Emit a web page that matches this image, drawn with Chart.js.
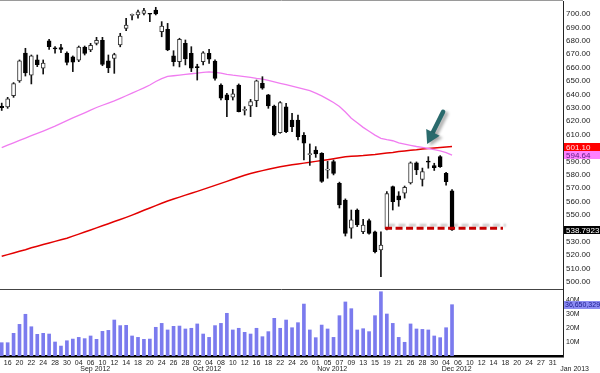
<!DOCTYPE html>
<html>
<head>
<meta charset="utf-8">
<script src="https://cdn.jsdelivr.net/npm/chart.js@4"></script>
<style>
html, body { margin: 0; padding: 0; background: #fff; }
#wrap { position: relative; width: 600px; height: 373px; overflow: hidden; }
canvas { position: absolute; left: 0; display: block; }
</style>
</head>
<body>
<div id="wrap">
  <canvas id="price" width="600" height="290" style="top:0"></canvas>
  <canvas id="vol" width="600" height="83" style="top:290px"></canvas>
</div>
<script>
// trading days, Aug 15 2012 -> Jan 2 2013 (only the first 77 have prices)
const days = ['15','16','17','20','21','22','23','24','27','28','29','30','31',
  '04','05','06','07','10','11','12','13','14','17','18','19','20','21','24','25','26','27','28',
  '01','02','03','04','05','08','09','10','11','12','15','16','17','18','19','22','23','24','25','26','31',
  '01','02','05','06','07','08','09','12','13','14','15','16','19','20','21','23','26','27','28','29','30',
  '03','04','05','06','07','10','11','12','13','14','17','18','19','20','21','24','26','27','28','31',
  '02'];
const monthStarts = [13, 32, 53, 74, 94];
const monthNames = ['Sep 2012', 'Oct 2012', 'Nov 2012', 'Dec 2012', 'Jan 2013'];

const opens = [631.0,630.6,639.0,650.0,670.8,654.4,665.7,659.5,679.9,674.2,
  675.0,670.8,668.0,665.5,675.3,673.1,678.1,680.4,665.0,666.9,
  677.0,689.3,699.0,699.3,700.5,700.2,703.0,686.8,688.6,668.7,
  664.4,678.1,670.7,660.5,664.4,670.7,664.9,647.0,639.6,638.0,
  647.0,628.0,631.3,635.3,648.3,639.6,631.3,611.4,630.8,620.9,
  620.9,609.5,595.0,598.5,596.0,583.5,589.8,573.6,561.2,540.1,
  553.7,537.5,545.8,537.5,523.9,539.5,571.1,564.2,566.2,574.0,
  589.0,576.6,590.2,586.8,593.5,581.1,568.1];
const highs = [633.5,637.8,648.8,665.7,674.4,669.4,669.4,665.7,681.0,675.6,
  677.4,671.8,668.7,676.1,676.1,678.1,682.6,682.6,669.4,670.7,
  685.6,696.8,700.0,703.0,704.2,700.5,705.0,694.3,693.0,672.6,
  681.9,680.6,675.6,662.5,671.9,673.6,665.7,647.8,640.8,643.8,
  647.8,630.8,636.3,650.7,653.2,640.0,632.0,634.6,633.4,625.9,
  624.6,611.5,603.0,601.0,596.5,590.0,591.0,574.5,562.0,553.7,
  554.5,546.8,547.0,538.0,537.5,567.4,571.6,567.4,571.6,589.6,
  589.6,585.0,593.5,588.6,594.3,581.8,568.9];
const lows = [628.0,629.6,637.8,649.0,653.7,647.8,660.7,655.2,673.6,670.7,
  671.1,662.0,657.0,664.4,669.4,671.9,676.9,661.4,656.2,655.7,
  675.5,687.5,695.5,696.8,699.3,694.3,699.3,683.0,672.6,661.2,
  660.5,662.0,657.0,650.7,662.0,663.2,650.7,635.8,623.4,635.8,
  626.9,624.6,623.4,630.8,643.8,629.6,609.0,611.0,611.4,612.2,
  606.0,591.0,587.0,593.0,574.3,577.4,579.9,555.2,534.3,532.6,
  541.3,536.0,535.6,521.6,504.0,538.8,553.7,556.5,562.6,573.1,
  580.1,571.6,584.9,583.2,585.5,572.3,538.5];
const closes = [630.0,636.6,648.1,665.1,656.1,668.8,662.1,663.4,675.6,674.0,
  673.5,663.9,664.0,675.3,670.5,676.7,680.4,662.3,659.7,669.8,
  683.6,691.8,699.6,701.7,702.5,699.8,700.0,691.0,673.1,664.4,
  681.1,666.5,659.5,660.0,671.1,666.2,652.0,637.1,635.8,640.5,
  627.1,628.8,634.6,650.2,644.6,631.3,609.7,633.8,612.2,615.9,
  608.4,603.5,595.3,595.5,575.0,584.2,581.1,557.5,536.3,546.3,
  542.5,542.5,536.3,522.6,527.6,565.9,560.0,561.2,570.6,589.0,
  583.6,582.3,589.4,585.3,586.0,574.9,538.7923];
// volume in millions
const volumes = [9.5,9.5,16.2,22.6,29.8,20.9,15.5,16.2,15.7,10.0,
  7.1,10.9,12.1,13.3,12.4,14.3,11.9,17.6,18.3,25.7,
  21.7,21.9,14.3,13.3,11.9,12.1,20.5,23.3,18.6,21.2,
  21.4,19.3,19.8,22.9,15.7,13.3,21.7,23.3,30.5,18.6,
  19.8,16.9,15.7,19.8,13.8,17.4,26.9,19.8,25.7,20.2,
  23.8,37.1,18.6,13.1,22.1,19.3,13.3,28.8,38.6,33.8,
  18.6,19.5,17.4,28.8,45.9,30.0,23.3,13.3,9.8,22.9,
  19.3,19.0,18.6,14.3,13.1,20.2,36.650329];
const ma50 = [600.3,602.1,603.8,605.6,607.4,609.2,610.9,612.6,614.4,616.3,
  618.4,620.4,622.4,624.3,626.2,628.2,630.2,631.9,633.5,635.1,
  637.0,639.0,640.9,642.9,644.9,647.0,649.6,651.8,653.4,653.9,
  654.4,654.9,655.4,655.9,656.5,656.8,656.4,655.8,654.9,654.3,
  653.8,653.3,652.7,652.0,651.4,650.4,649.3,648.3,647.2,646.2,
  645.1,644.0,642.8,641.0,638.9,636.5,633.9,631.0,626.8,622.2,
  618.8,615.4,612.5,609.6,607.2,606.2,605.4,603.8,602.9,602.0,
  601.1,600.4,599.6,598.7,597.9,596.6,594.64];
const ma200 = [519.2,520.4,521.6,522.9,524.1,525.5,526.7,527.9,529.1,530.3,
  531.5,532.6,534.2,535.7,537.3,538.8,540.4,542.0,543.5,545.1,
  546.6,548.2,549.9,551.7,553.5,555.2,557.0,558.7,560.4,561.9,
  563.3,564.8,566.2,567.6,569.1,570.6,572.1,573.6,575.1,576.7,
  578.2,579.6,580.9,582.0,583.1,584.1,585.1,586.0,586.7,587.4,
  588.1,588.7,589.3,590.0,590.6,591.3,592.0,592.7,593.4,593.8,
  594.1,594.4,594.8,595.2,595.7,596.2,596.7,597.3,597.8,598.3,
  598.7,599.2,599.6,600.0,600.4,600.8,601.10];

const priceTicks = [500,510,520,530,540,550,560,570,580,590,600,610,620,630,640,650,660,670,680,690,700];
const volTicks = [10, 20, 30, 40];

// drawn annotations (in data units)
const support = { level: 540.1, from: 64.7, to: 84.6 };
const arrowTail = [74.5, 627];
const arrowTip = [71.8, 603];

const X_MIN = -0.29, X_MAX = 94.73;

Chart.defaults.font.family = '"Liberation Sans", Arial, sans-serif';
Chart.defaults.color = '#222';

const wicks = lows.map((l, i) => ({ x: i, y: [l, highs[i]] }));
const bodies = opens.map((o, i) => ({ x: i, y: [Math.min(o, closes[i]), Math.max(o, closes[i])] }));
const bodyFill = opens.map((o, i) => closes[i] > o ? '#ffffff' : '#000000');
const bodyEdge = opens.map((o, i) => closes[i] > o ? '#333333' : '#000000');

function fixWidth(a) { a.width = 37; a.paddingTop = 0; a.paddingBottom = 0; }

const priceExtras = {
  id: 'priceExtras',
  afterDraw(chart) {
    const { ctx, chartArea: a, scales: { x, y } } = chart;
    ctx.save();
    ctx.lineWidth = 1;
    ctx.strokeStyle = '#9a9a9a';
    ctx.beginPath(); ctx.moveTo(0, 0.5); ctx.lineTo(a.right, 0.5); ctx.stroke();
    ctx.strokeStyle = '#444';
    ctx.beginPath(); ctx.moveTo(0, 289.5); ctx.lineTo(a.right, 289.5); ctx.stroke();

    // dashed support line with its shadow
    const sy = y.getPixelForValue(support.level);
    ctx.save();
    ctx.setLineDash([7, 3.5]);
    ctx.lineWidth = 3;
    ctx.strokeStyle = '#c40000';
    ctx.shadowColor = 'rgba(0,0,0,0.2)';
    ctx.shadowBlur = 2; ctx.shadowOffsetX = 3; ctx.shadowOffsetY = -3;
    ctx.beginPath();
    ctx.moveTo(x.getPixelForValue(support.from), sy);
    ctx.lineTo(x.getPixelForValue(support.to), sy);
    ctx.stroke();
    ctx.restore();

    // arrow
    const tx = x.getPixelForValue(arrowTip[0]), ty = y.getPixelForValue(arrowTip[1]);
    const fx = x.getPixelForValue(arrowTail[0]), fy = y.getPixelForValue(arrowTail[1]);
    const len = Math.hypot(tx - fx, ty - fy), ux = (tx - fx) / len, uy = (ty - fy) / len;
    const hl = 13, hw = 7.5;
    const bx = tx - ux * hl, by = ty - uy * hl;
    ctx.save();
    ctx.shadowColor = 'rgba(0,0,0,0.3)';
    ctx.shadowBlur = 3; ctx.shadowOffsetX = 3; ctx.shadowOffsetY = 2;
    ctx.strokeStyle = ctx.fillStyle = '#2a6a6c';
    ctx.lineWidth = 4.5; ctx.lineCap = 'round';
    ctx.beginPath(); ctx.moveTo(fx, fy); ctx.lineTo(bx + ux * 2, by + uy * 2); ctx.stroke();
    ctx.beginPath();
    ctx.moveTo(tx, ty);
    ctx.lineTo(bx - uy * hw, by + ux * hw);
    ctx.lineTo(bx + uy * hw, by - ux * hw);
    ctx.closePath(); ctx.fill();
    ctx.restore();

    // last value boxes on the axis
    const last = closes.length - 1;
    const boxes = [
      [ma200[last], '#ff0000', '#ffe0e0', ma200[last].toFixed(2)],
      [ma50[last], '#ff80ff', '#5a1a80', ma50[last].toFixed(2)],
      [closes[last], '#000000', '#ffffff', closes[last].toFixed(4)]
    ];
    ctx.font = '8px "Liberation Sans", Arial, sans-serif';
    ctx.textBaseline = 'middle';
    boxes.forEach(([v, bg, fg, t]) => {
      const py = Math.round(y.getPixelForValue(v));
      ctx.fillStyle = bg;
      ctx.fillRect(a.right + 1, py - 4, 37, 8);
      ctx.fillStyle = fg;
      ctx.fillText(t, a.right + 3, py + 0.5);
    });
    ctx.restore();
  }
};

const volExtras = {
  id: 'volExtras',
  afterDraw(chart) {
    const { ctx, chartArea: a, scales: { x, y } } = chart;
    ctx.save();
    ctx.font = '7px "Liberation Sans", Arial, sans-serif';
    ctx.fillStyle = '#222';
    ctx.textBaseline = 'middle';
    monthStarts.forEach((d, k) => {
      ctx.fillText(monthNames[k], x.getPixelForValue(d) + 1.5, 79.5);
    });
    const last = volumes.length - 1;
    const py = Math.round(y.getPixelForValue(volumes[last]));
    ctx.fillStyle = '#8c8cf2';
    ctx.fillRect(a.right + 1, py - 4, 37, 8);
    ctx.fillStyle = '#1c1c90';
    ctx.font = '7px "Liberation Sans", Arial, sans-serif';
    ctx.fillText(Math.round(volumes[last] * 1e6).toLocaleString('en-US'), a.right + 2, py + 0.5);
    ctx.restore();
  }
};

new Chart(document.getElementById('price'), {
  type: 'bar',
  data: {
    datasets: [
      { type: 'line', data: ma200.map((v, i) => ({ x: i, y: v })), borderColor: '#e30000', borderWidth: 1.5, pointRadius: 0, order: 4 },
      { type: 'line', data: ma50.map((v, i) => ({ x: i, y: v })), borderColor: '#f07cf0', borderWidth: 1.3, pointRadius: 0, order: 3 },
      { data: wicks, backgroundColor: '#111', borderWidth: 0, barThickness: 1, grouped: false, order: 2 },
      { data: bodies, backgroundColor: bodyFill, borderColor: bodyEdge, borderWidth: 1, borderSkipped: false,
        barThickness: 4, minBarLength: 1, grouped: false, order: 1 }
    ]
  },
  options: {
    responsive: false,
    animation: false,
    events: [],
    layout: { padding: { top: 1, left: 0, right: 0, bottom: 0 } },
    plugins: { legend: { display: false }, tooltip: { enabled: false } },
    scales: {
      x: { type: 'linear', display: false, min: X_MIN, max: X_MAX, offset: false },
      y: {
        position: 'right', min: 494.0, max: 709.7,
        afterBuildTicks: a => { a.ticks = priceTicks.map(v => ({ value: v })); },
        afterFit: fixWidth,
        grid: { display: false, drawTicks: false },
        border: { display: true, color: '#222', width: 1 },
        ticks: { padding: 3, font: { size: 8 }, color: '#222', callback: v => v.toFixed(2) }
      }
    }
  },
  plugins: [priceExtras]
});

new Chart(document.getElementById('vol'), {
  type: 'bar',
  data: {
    datasets: [
      { data: volumes.map((v, i) => ({ x: i, y: v })), backgroundColor: '#7b7bee', barThickness: 3 }
    ]
  },
  options: {
    responsive: false,
    animation: false,
    events: [],
    layout: { padding: 0 },
    plugins: { legend: { display: false }, tooltip: { enabled: false } },
    scales: {
      x: {
        type: 'linear', min: X_MIN, max: X_MAX, offset: false,
        afterBuildTicks: a => { a.ticks = days.map((d, i) => i).filter(i => i % 2 === 1).map(v => ({ value: v })); },
        afterFit: a => { a.height = 17; a.paddingLeft = 0; a.paddingRight = 0; },
        grid: { display: false, drawTicks: false },
        border: { display: true, color: '#000', width: 2.5 },
        ticks: { autoSkip: false, maxRotation: 0, minRotation: 0, padding: 3, font: { size: 7 }, color: '#222',
          callback: v => days[v] }
      },
      y: {
        position: 'right', min: 0, max: 47.14,
        afterBuildTicks: a => { a.ticks = volTicks.map(v => ({ value: v })); },
        afterFit: fixWidth,
        grid: { display: false, drawTicks: false },
        border: { display: true, color: '#222', width: 1 },
        ticks: { padding: 3, font: { size: 7 }, color: '#222', callback: v => v + 'M' }
      }
    }
  },
  plugins: [volExtras]
});
</script>
</body>
</html>
